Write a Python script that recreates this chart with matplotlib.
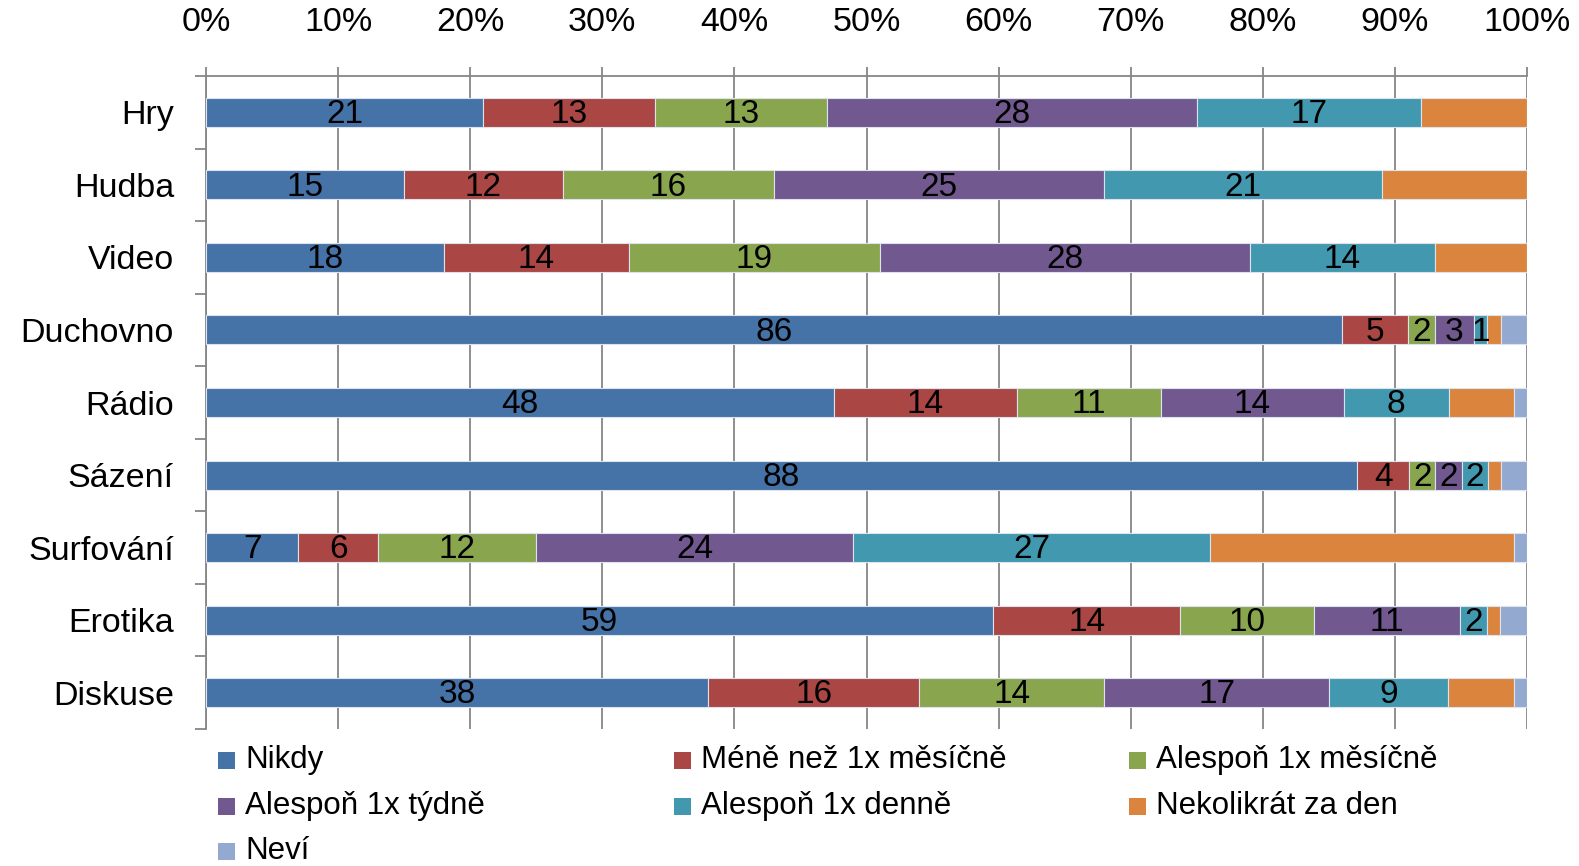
import numpy as np
import matplotlib
matplotlib.use("Agg")
import matplotlib.pyplot as plt
from matplotlib.ticker import PercentFormatter, MultipleLocator, FixedLocator
from matplotlib.patches import Rectangle

plt.rcParams['font.family'] = ['Liberation Sans', 'DejaVu Sans']

categories = ['Hry', 'Hudba', 'Video', 'Duchovno', 'Rádio', 'Sázení',
              'Surfování', 'Erotika', 'Diskuse']

series_names = ['Nikdy', 'Méně než 1x měsíčně', 'Alespoň 1x měsíčně',
                'Alespoň 1x týdně', 'Alespoň 1x denně', 'Nekolikrát za den', 'Neví']

nikdy      = [21, 15, 18, 86, 48, 88, 7, 59, 38]
mene       = [13, 12, 14, 5, 14, 4, 6, 14, 16]
mesicne    = [13, 16, 19, 2, 11, 2, 12, 10, 14]
tydne      = [28, 25, 28, 3, 14, 2, 24, 11, 17]
denne      = [17, 21, 14, 1, 8, 2, 27, 2, 9]
nekolikrat = [8, 11, 7, 1, 5, 1, 23, 1, 5]
nevi       = [0, 0, 0, 2, 1, 2, 1, 2, 1]

colors = ['#4572A7', '#AA4643', '#89A54E', '#71588F', '#4198AF', '#DB843D', '#93A9CF']
labelled = 5  # only first five series carry data labels

data = np.array([nikdy, mene, mesicne, tydne, denne, nekolikrat, nevi], dtype=float)
# 100% stacked, like excel
pct = data / data.sum(axis=0) * 100

W, H = 1579, 866
fig = plt.figure(figsize=(W / 100, H / 100), dpi=100)
ax = fig.add_axes([206 / W, 1 - 729 / H, (1527 - 206) / W, (729 - 76) / H])

y = np.arange(len(categories))
left = np.zeros(len(categories))
for i, name in enumerate(series_names):
    bars = ax.barh(y, pct[i], left=left, height=0.4, color=colors[i],
                   edgecolor='#dde3ee', linewidth=0.8, label=name, zorder=3)
    if i < labelled:
        for j, b in enumerate(bars):
            if data[i, j] > 0:
                ax.text(left[j] + pct[i, j] / 2, y[j] + 0.03, f'{data[i, j]:.0f}',
                        ha='center', va='center', fontsize=24, color='black', zorder=4)
    left += pct[i]

ax.set_xlim(0, 100)
ax.set_ylim(len(categories) - 0.5, -0.5)
ax.xaxis.tick_top()
ax.xaxis.set_major_locator(MultipleLocator(10))
ax.xaxis.set_major_formatter(PercentFormatter(xmax=100, decimals=0))
ax.set_yticks(y)
ax.set_yticklabels(categories)
ax.yaxis.set_minor_locator(FixedLocator(np.arange(-0.5, len(categories), 1)))

grey = '#868686'
ax.grid(axis='x', color=grey, linewidth=1.3, zorder=0)
ax.tick_params(axis='x', which='major', direction='out', length=6.5, width=1.3,
               color=grey, labelsize=24.5, pad=21)
ax.tick_params(axis='y', which='major', length=0, labelsize=24.5, pad=23)
ax.tick_params(axis='y', which='minor', direction='out', length=8, width=1.3, color=grey)
for s in ['right', 'bottom']:
    ax.spines[s].set_visible(False)
for s in ['left', 'top']:
    ax.spines[s].set_color(grey)
    ax.spines[s].set_linewidth(1.3)

# legend laid out row by row as in the original
col_x = [218, 674, 1129]
row_y = [760, 806, 851]
sq = 17
for i, name in enumerate(series_names):
    cx = col_x[i % 3]
    cy = row_y[i // 3]
    fig.add_artist(Rectangle((cx / W, 1 - (cy + sq / 2) / H), sq / W, sq / H,
                             transform=fig.transFigure, facecolor=colors[i],
                             edgecolor='none'))
    fig.text((cx + 27) / W, 1 - cy / H, name, fontsize=22.5, va='center', ha='left')

fig.savefig('out.png', dpi=100)
